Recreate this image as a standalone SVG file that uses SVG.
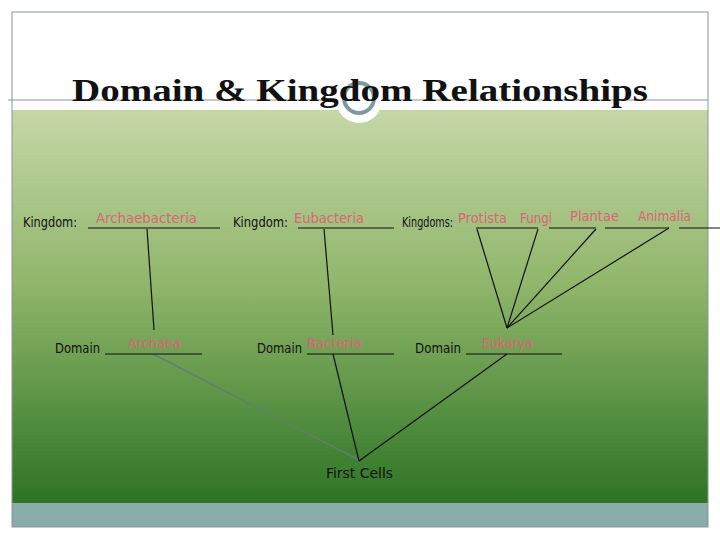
<svg xmlns="http://www.w3.org/2000/svg" width="720" height="540" viewBox="0 0 720 540">
<defs>
<linearGradient id="bg" x1="0" y1="0" x2="0" y2="1">
<stop offset="0" stop-color="#c5d7a7"/>
<stop offset="0.45" stop-color="#8fb56a"/>
<stop offset="1" stop-color="#2d7424"/>
</linearGradient>
<style>
.lbl{font-family:"Comic Sans MS","DejaVu Sans",sans-serif;font-size:14px;fill:#111}
.pk{font-family:"Comic Sans MS","DejaVu Sans",sans-serif;font-size:14px;fill:#dc6473}
.ul{stroke:#111;stroke-width:1.2;fill:none}
.ln{stroke:#111;stroke-width:1.2;fill:none}
.gl{stroke:#5f7f70;stroke-width:1.5;fill:none}
</style>
</defs>
<rect width="720" height="540" fill="#ffffff"/>
<g id="slide">
<rect x="12" y="110" width="696" height="393" fill="url(#bg)"/>
<rect x="12" y="503" width="696" height="24" fill="#8aacaa"/>
<rect x="12" y="12" width="696" height="515" fill="none" stroke="#8a9598" stroke-width="1"/>
<line x1="8" y1="100" x2="708" y2="100" stroke="#8a9598" stroke-width="1"/>
<circle cx="359" cy="100" r="23" fill="#ffffff"/>
<circle cx="359" cy="98" r="15" fill="#ffffff" stroke="#7f9a9a" stroke-width="4"/>
<text x="72" y="101" font-family="'Liberation Serif',serif" font-weight="bold" font-size="31" fill="#111" textLength="576" lengthAdjust="spacingAndGlyphs">Domain &amp; Kingdom Relationships</text>
</g>
<g id="connectors">
<line class="ln" x1="147" y1="229" x2="154" y2="330"/>
<line class="gl" x1="153" y1="354" x2="359" y2="460"/>
<line class="ln" x1="324" y1="229" x2="333" y2="335"/>
<line class="ln" x1="333" y1="354" x2="359" y2="461"/>
<line class="ln" x1="507" y1="354" x2="359" y2="461"/>
<line class="ln" x1="477" y1="229" x2="507" y2="328"/>
<line class="ln" x1="538" y1="229" x2="507" y2="328"/>
<line class="ln" x1="596" y1="229" x2="507" y2="328"/>
<line class="ln" x1="669" y1="228" x2="507" y2="328"/>
</g>
<g id="kingdom-archaebacteria">
<text class="lbl" x="23" y="227" textLength="54" lengthAdjust="spacingAndGlyphs">Kingdom:</text>
<line class="ul" x1="88" y1="228" x2="220" y2="228"/>
<text class="pk" x="96" y="223" textLength="101" lengthAdjust="spacingAndGlyphs">Archaebacteria</text>
</g>
<g id="domain-archaea">
<text class="lbl" x="55" y="353" textLength="45" lengthAdjust="spacingAndGlyphs">Domain</text>
<line class="ul" x1="105" y1="354" x2="202" y2="354"/>
<text class="pk" x="128" y="348" textLength="53" lengthAdjust="spacingAndGlyphs">Archaea</text>
</g>
<g id="kingdom-eubacteria">
<text class="lbl" x="233" y="227" textLength="55" lengthAdjust="spacingAndGlyphs">Kingdom:</text>
<line class="ul" x1="298" y1="228" x2="394" y2="228"/>
<text class="pk" x="294" y="223" textLength="70" lengthAdjust="spacingAndGlyphs">Eubacteria</text>
</g>
<g id="domain-bacteria">
<text class="lbl" x="257" y="353" textLength="45" lengthAdjust="spacingAndGlyphs">Domain</text>
<line class="ul" x1="307" y1="354" x2="394" y2="354"/>
<text class="pk" x="307" y="348" textLength="55" lengthAdjust="spacingAndGlyphs">Bacteria</text>
</g>
<g id="kingdoms-eukarya">
<text class="lbl" transform="translate(402,227) scale(1,1.33)" x="0" y="0" style="font-size:10.5px" textLength="51" lengthAdjust="spacingAndGlyphs">Kingdoms:</text>
<line class="ul" x1="476" y1="228" x2="538" y2="228"/>
<line class="ul" x1="549" y1="228" x2="596" y2="228"/>
<line class="ul" x1="605" y1="228" x2="669" y2="228"/>
<line class="ul" x1="679" y1="228" x2="720" y2="228"/>
<text class="pk" x="458" y="223" textLength="49" lengthAdjust="spacingAndGlyphs">Protista</text>
<text class="pk" x="520" y="223" textLength="32" lengthAdjust="spacingAndGlyphs">Fungi</text>
<text class="pk" x="570" y="221" textLength="49" lengthAdjust="spacingAndGlyphs">Plantae</text>
<text class="pk" x="638" y="221" textLength="53" lengthAdjust="spacingAndGlyphs">Animalia</text>
</g>
<g id="domain-eukarya">
<text class="lbl" x="415" y="353" textLength="46" lengthAdjust="spacingAndGlyphs">Domain</text>
<line class="ul" x1="466" y1="354" x2="562" y2="354"/>
<text class="pk" x="482" y="348" textLength="51" lengthAdjust="spacingAndGlyphs">Eukarya</text>
</g>
<g id="first-cells">
<text class="lbl" x="326" y="478" textLength="67" lengthAdjust="spacingAndGlyphs">First Cells</text>
</g>
</svg>
